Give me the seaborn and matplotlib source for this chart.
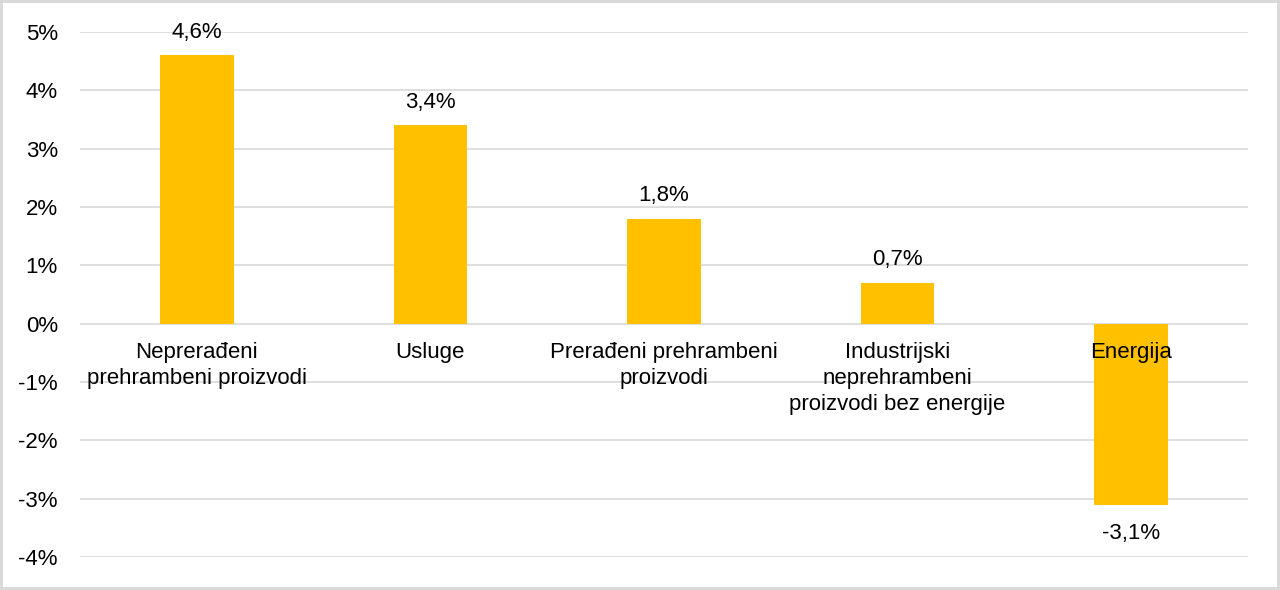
import matplotlib.pyplot as plt
import seaborn as sns
import pandas as pd
from matplotlib.ticker import FuncFormatter

categories = [
    "Neprerađeni\nprehrambeni proizvodi",
    "Usluge",
    "Prerađeni prehrambeni\nproizvodi",
    "Industrijski\nneprehrambeni\nproizvodi bez energije",
    "Energija",
]
values = [4.6, 3.4, 1.8, 0.7, -3.1]

df = pd.DataFrame({"category": categories, "value": values})

sns.set_style("white")
plt.rcParams["font.family"] = ["Liberation Sans", "DejaVu Sans"]
plt.rcParams["text.color"] = "black"

fig = plt.figure(figsize=(12.8, 5.9), dpi=100)
ax = fig.add_axes([0.0625, 0.0559, 0.9125, 0.8899])

sns.barplot(data=df, x="category", y="value", color="#FFC000",
            width=0.315, saturation=1, linewidth=0, ax=ax, zorder=2)

ax.set_ylim(-4, 5)
ax.set_yticks(range(-4, 6))
ax.yaxis.set_major_formatter(FuncFormatter(lambda v, p: f"{v:.0f}%"))
ax.grid(True, axis="y", color="#d9d9d9", linewidth=1.2, zorder=0)
ax.set_axisbelow(True)
ax.xaxis.set_zorder(5)
for s in ax.spines.values():
    s.set_visible(False)
ax.spines["bottom"].set_position(("data", 0))
ax.tick_params(axis="x", length=0, pad=13, labelsize=16, labelcolor="black")
ax.tick_params(axis="y", length=0, pad=16, labelsize=16, labelcolor="black")
for lab in ax.get_xticklabels():
    lab.set_linespacing(1.32)
ax.set_xlabel("")
ax.set_ylabel("")

for i, v in enumerate(values):
    txt = f"{v:.1f}%".replace(".", ",")
    if v >= 0:
        ax.annotate(txt, (i, v), xytext=(0, 9), textcoords="offset points",
                    ha="center", va="bottom", fontsize=16, color="black")
    else:
        ax.annotate(txt, (i, v), xytext=(0, -13), textcoords="offset points",
                    ha="center", va="top", fontsize=16, color="black")

fig.patch.set_edgecolor("#d9d9d9")
fig.patch.set_linewidth(3)
fig.savefig("out.png", dpi=100, edgecolor=fig.get_edgecolor())
